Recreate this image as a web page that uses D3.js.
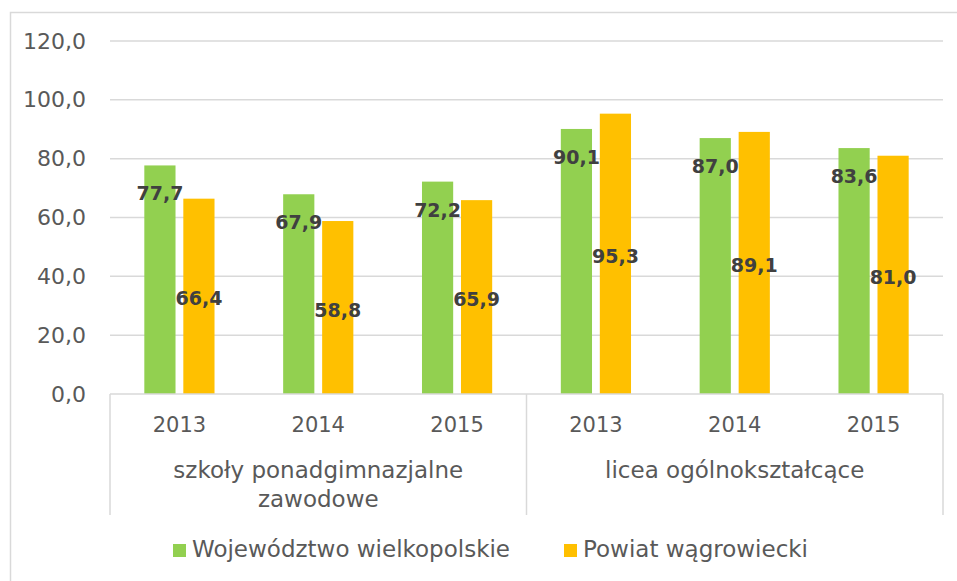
<!DOCTYPE html>
<html lang="pl">
<head>
<meta charset="UTF-8">
<title>Chart</title>
<style>
    body { margin: 0; background: #fff; }
    svg { display: block; font-family: "DejaVu Sans", sans-serif; }
    .tick-label { fill: #595959; font-size: 22px; }
    .year-label { fill: #595959; font-size: 21px; }
    .cat-label { fill: #595959; font-size: 23px; }
    .data-label { fill: #404040; font-size: 19px; font-weight: bold; }
    .legend-text { fill: #595959; font-size: 23px; }
</style>
</head>
<body>
<svg id="chart"></svg>
<script src="https://cdnjs.cloudflare.com/ajax/libs/d3/7.9.0/d3.min.js"></script>
<script>
    // data
    const groups = ["szkoły ponadgimnazjalne zawodowe", "licea ogólnokształcące"];
    const groupLines = [["szkoły ponadgimnazjalne", "zawodowe"], ["licea ogólnokształcące"]];
    const years = ["2013", "2014", "2015"];
    const seriesNames = ["Województwo wielkopolskie", "Powiat wągrowiecki"];
    const wojewodztwo = [77.7, 67.9, 72.2, 90.1, 87.0, 83.6];
    const powiat = [66.4, 58.8, 65.9, 95.3, 89.1, 81.0];
    const yTicks = [0, 20, 40, 60, 80, 100, 120];
    const colors = ["#92D050", "#FFC000"];

    const w = 957, h = 581;
    const plotLeft = 110, plotRight = 943, plotTop = 41, plotBottom = 394;

    const svg = d3.select("#chart").attr("width", w).attr("height", h);

    // outer chart border (runs off to the right)
    svg.append("path")
        .attr("d", `M10.5,${h} L10.5,12.5 L${w},12.5`)
        .attr("fill", "none")
        .attr("stroke", "#D9D9D9")
        .attr("stroke-width", 1.5);

    const keys = [];
    groups.forEach((g, gi) => years.forEach(y => keys.push(gi + "|" + y)));

    const x0 = d3.scaleBand().domain(keys).range([plotLeft, plotRight]);
    const x1 = d3.scaleBand().domain(seriesNames).range([0, x0.bandwidth()])
        .paddingInner(0.2).paddingOuter(0.88);
    const y = d3.scaleLinear().domain([0, 120]).range([plotBottom, plotTop]);

    const fmt = v => d3.format(".1f")(v).replace(".", ",");

    // gridlines
    svg.append("g").selectAll("line")
        .data(yTicks.filter(t => t > 0))
        .enter().append("line")
        .attr("x1", plotLeft).attr("x2", plotRight)
        .attr("y1", d => y(d)).attr("y2", d => y(d))
        .attr("stroke", "#D9D9D9").attr("stroke-width", 1.5);

    // y axis labels
    const yAxis = d3.axisLeft(y).tickValues(yTicks).tickFormat(fmt).tickSize(0).tickPadding(24);
    const yg = svg.append("g").attr("transform", `translate(${plotLeft},0)`).call(yAxis);
    yg.attr("font-family", null).attr("font-size", null);
    yg.select(".domain").remove();
    yg.selectAll("text").attr("class", "tick-label").attr("fill", null);

    // bars
    const rows = keys.map((k, i) => ({ key: k, values: [wojewodztwo[i], powiat[i]] }));
    const barG = svg.append("g").selectAll("g")
        .data(rows).enter().append("g")
        .attr("transform", d => `translate(${x0(d.key)},0)`);

    barG.selectAll("rect")
        .data(d => d.values.map((v, si) => ({ v, s: seriesNames[si], si })))
        .enter().append("rect")
        .attr("x", d => x1(d.s))
        .attr("width", x1.bandwidth())
        .attr("y", d => y(d.v))
        .attr("height", d => y(0) - y(d.v))
        .attr("fill", d => colors[d.si]);

    // data labels: green near top, orange centred
    barG.selectAll("text")
        .data(d => d.values.map((v, si) => ({ v, s: seriesNames[si], si })))
        .enter().append("text")
        .attr("class", "data-label")
        .attr("text-anchor", "middle")
        .attr("dominant-baseline", "central")
        .attr("x", d => x1(d.s) + x1.bandwidth() / 2)
        .attr("y", d => d.si === 0 ? y(d.v) + 28 : (y(d.v) + y(0)) / 2 + 2)
        .text(d => fmt(d.v));

    // category axis
    const axisG = svg.append("g").attr("stroke", "#D9D9D9").attr("stroke-width", 1.5);
    axisG.append("line")
        .attr("x1", plotLeft).attr("x2", plotRight)
        .attr("y1", plotBottom).attr("y2", plotBottom);
    const seps = [plotLeft, x0(keys[3]), plotRight];
    axisG.selectAll(".sep").data(seps).enter().append("line")
        .attr("x1", d => d).attr("x2", d => d)
        .attr("y1", plotBottom).attr("y2", 515);

    svg.append("g").selectAll("text")
        .data(keys).enter().append("text")
        .attr("class", "year-label")
        .attr("text-anchor", "middle")
        .attr("x", d => x0(d) + x0.bandwidth() / 2)
        .attr("y", 432)
        .text(d => d.split("|")[1]);

    groupLines.forEach((lines, gi) => {
        const first = x0(gi + "|" + years[0]);
        const last = x0(gi + "|" + years[years.length - 1]) + x0.bandwidth();
        const t = svg.append("text")
            .attr("class", "cat-label")
            .attr("text-anchor", "middle")
            .attr("x", (first + last) / 2)
            .attr("y", 478);
        lines.forEach((l, li) => {
            t.append("tspan")
                .attr("x", (first + last) / 2)
                .attr("dy", li === 0 ? 0 : 29)
                .text(l);
        });
    });

    // legend
    const legendX = [173, 564];
    const lg = svg.append("g").selectAll("g")
        .data(seriesNames).enter().append("g")
        .attr("transform", (d, i) => `translate(${legendX[i]},544)`);
    lg.append("rect").attr("width", 13).attr("height", 13)
        .attr("fill", (d, i) => colors[i]);
    lg.append("text").attr("class", "legend-text")
        .attr("x", 19).attr("y", 13)
        .text(d => d);
</script>
</body>
</html>
